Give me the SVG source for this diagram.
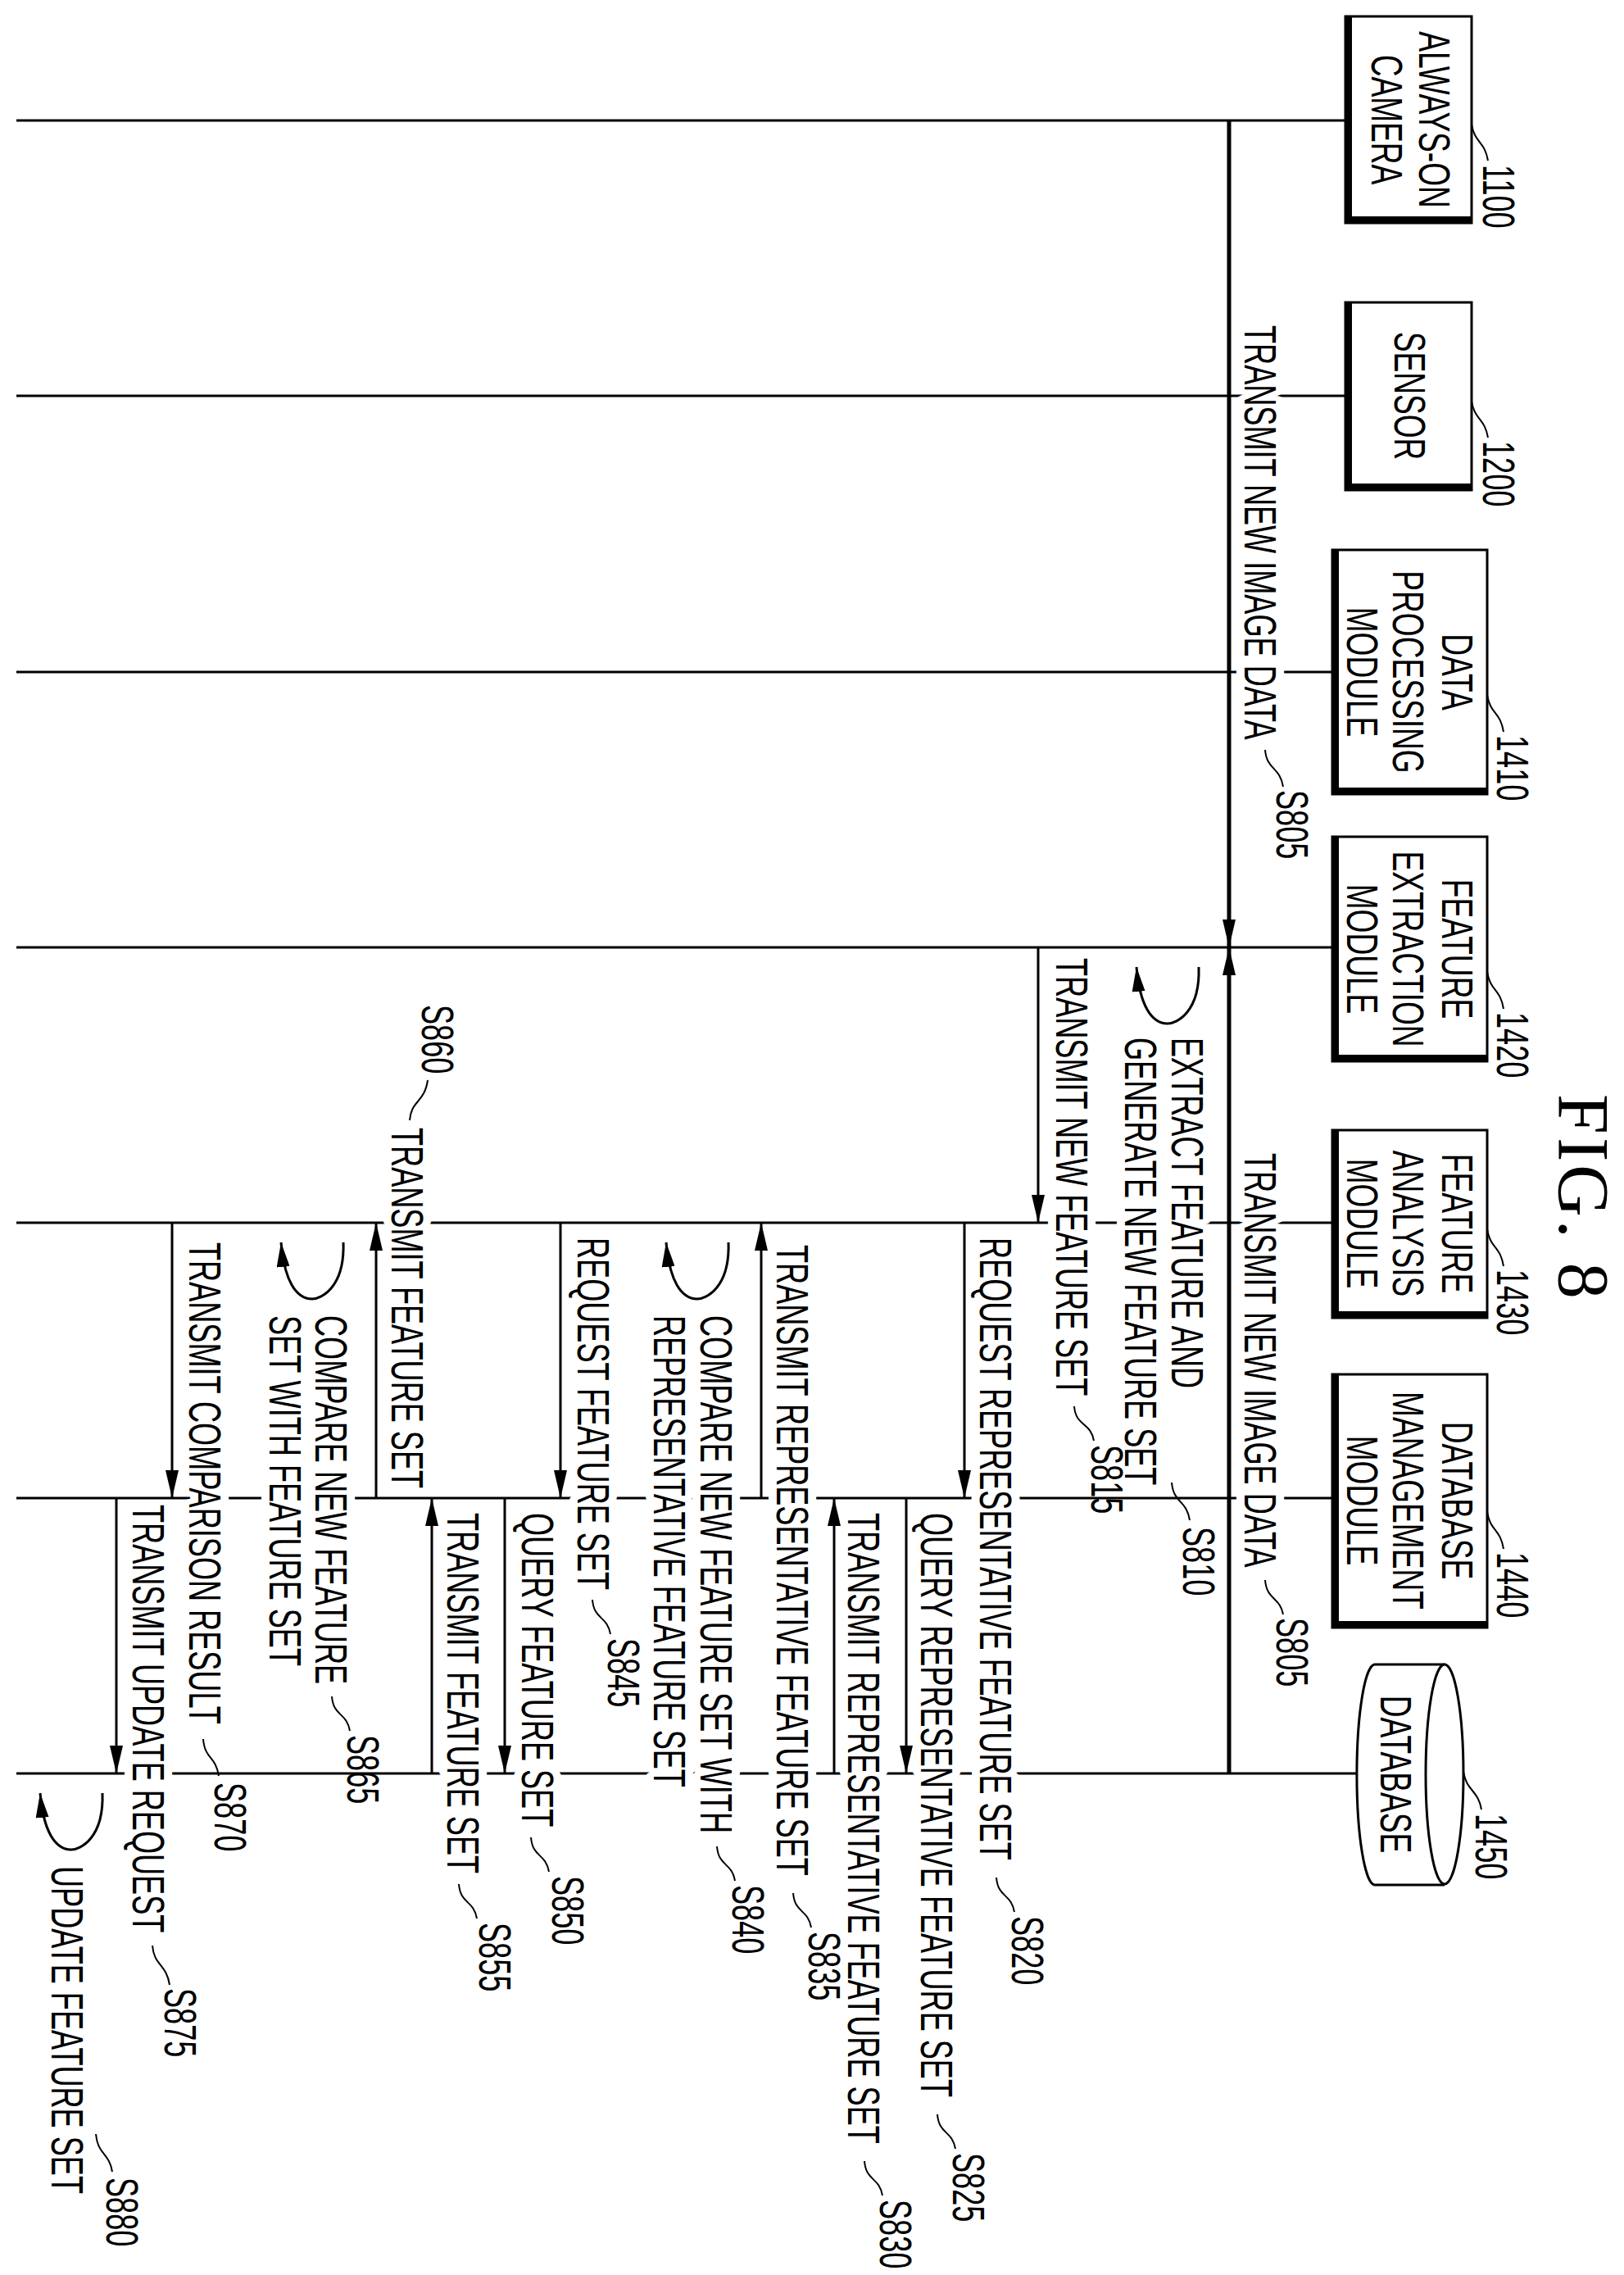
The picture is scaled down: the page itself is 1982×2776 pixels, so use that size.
<svg xmlns="http://www.w3.org/2000/svg" width="1982" height="2776" viewBox="0 0 1982 2776">
<defs>
<style>
.ll{stroke:#000;stroke-width:3;fill:none}
.msg{stroke:#000;stroke-width:3;fill:none}
.thick{stroke:#000;stroke-width:5;fill:none}
.box{fill:#fff;stroke:#000;stroke-width:3}
.sh{stroke:#000;stroke-width:8;fill:none}
.ld{stroke:#000;stroke-width:2;fill:none}
.t{font-family:"Liberation Sans",Arial,sans-serif;font-size:56px;fill:#000}
.h{stroke:#fff;stroke-width:20px;paint-order:stroke;stroke-linejoin:round}
.bt{font-family:"Liberation Sans",Arial,sans-serif;font-size:53px;fill:#000;text-anchor:middle}
.fig{font-family:"Liberation Serif","Times New Roman",serif;font-size:88px;fill:#000;letter-spacing:4px}
</style>
<marker id="ah" markerWidth="34" markerHeight="16" refX="34" refY="8" orient="auto" markerUnits="userSpaceOnUse"><path d="M0,0 L34,8 L0,16 z" fill="#000"/></marker>
<marker id="lh" markerWidth="30" markerHeight="16" refX="30" refY="8" orient="auto" markerUnits="userSpaceOnUse"><path d="M0,0 L30,8 L0,16 z" fill="#000"/></marker>
</defs>
<rect width="1982" height="2776" fill="#fff"/>

<g id="lifelines">
<line class="ll" x1="20" y1="147" x2="1642" y2="147"/>
<line class="ll" x1="20" y1="483" x2="1642" y2="483"/>
<line class="ll" x1="20" y1="820" x2="1626" y2="820"/>
<line class="ll" x1="20" y1="1156" x2="1626" y2="1156"/>
<line class="ll" x1="20" y1="1492" x2="1626" y2="1492"/>
<line class="ll" x1="20" y1="1828" x2="1626" y2="1828"/>
<line class="ll" x1="20" y1="2164" x2="1656" y2="2164"/>
</g>

<text class="fig" transform="translate(1903,1335) rotate(90)">FIG. 8</text>

<g id="n1100">
<rect class="box" x="1642" y="20" width="154" height="252"/>
<path class="sh" d="M1646,20 V268 H1796"/>
<text class="bt" transform="translate(1732,146) rotate(90) scale(0.7,1)">ALWAYS-ON</text>
<text class="bt" transform="translate(1674,146) rotate(90) scale(0.7,1)">CAMERA</text>
<path class="ld" d="M1796,152 C1800,175 1812,172 1816,196"/>
<text class="t" transform="translate(1810,201) rotate(90) scale(0.645,1)">1100</text>
</g>
<g id="n1200">
<rect class="box" x="1642" y="369" width="154" height="229"/>
<path class="sh" d="M1646,369 V594 H1796"/>
<text class="bt" transform="translate(1702,483) rotate(90) scale(0.7,1)">SENSOR</text>
<path class="ld" d="M1796,490 C1800,513 1812,510 1816,534"/>
<text class="t" transform="translate(1810,538) rotate(90) scale(0.645,1)">1200</text>
</g>
<g id="n1410">
<rect class="box" x="1626" y="671" width="189" height="298"/>
<path class="sh" d="M1630,671 V965 H1815"/>
<text class="bt" transform="translate(1760,820) rotate(90) scale(0.7,1)">DATA</text>
<text class="bt" transform="translate(1700,820) rotate(90) scale(0.7,1)">PROCESSING</text>
<text class="bt" transform="translate(1644,820) rotate(90) scale(0.7,1)">MODULE</text>
<path class="ld" d="M1815,848 C1819,872 1831,868 1835,893"/>
<text class="t" transform="translate(1827,897) rotate(90) scale(0.645,1)">1410</text>
</g>
<g id="n1420">
<rect class="box" x="1626" y="1021" width="189" height="274"/>
<path class="sh" d="M1630,1021 V1291 H1815"/>
<text class="bt" transform="translate(1760,1158) rotate(90) scale(0.7,1)">FEATURE</text>
<text class="bt" transform="translate(1700,1158) rotate(90) scale(0.7,1)">EXTRACTION</text>
<text class="bt" transform="translate(1644,1158) rotate(90) scale(0.7,1)">MODULE</text>
<path class="ld" d="M1815,1186 C1819,1210 1831,1206 1835,1231"/>
<text class="t" transform="translate(1827,1235) rotate(90) scale(0.645,1)">1420</text>
</g>
<g id="n1430">
<rect class="box" x="1626" y="1379" width="189" height="229"/>
<path class="sh" d="M1630,1379 V1604 H1815"/>
<text class="bt" transform="translate(1760,1493) rotate(90) scale(0.7,1)">FEATURE</text>
<text class="bt" transform="translate(1700,1493) rotate(90) scale(0.7,1)">ANALYSIS</text>
<text class="bt" transform="translate(1644,1493) rotate(90) scale(0.7,1)">MODULE</text>
<path class="ld" d="M1815,1500 C1819,1524 1831,1520 1835,1545"/>
<text class="t" transform="translate(1827,1549) rotate(90) scale(0.645,1)">1430</text>
</g>
<g id="n1440">
<rect class="box" x="1626" y="1677" width="189" height="309"/>
<path class="sh" d="M1630,1677 V1982 H1815"/>
<text class="bt" transform="translate(1760,1831) rotate(90) scale(0.7,1)">DATABASE</text>
<text class="bt" transform="translate(1700,1831) rotate(90) scale(0.7,1)">MANAGEMENT</text>
<text class="bt" transform="translate(1644,1831) rotate(90) scale(0.7,1)">MODULE</text>
<path class="ld" d="M1815,1845 C1819,1869 1831,1865 1835,1890"/>
<text class="t" transform="translate(1827,1894) rotate(90) scale(0.645,1)">1440</text>
</g>
<g id="n1450">
<path class="box" d="M1763,2031 H1678 A22,134 0 0 0 1678,2300 H1763"/>
<ellipse class="box" cx="1763" cy="2165" rx="23" ry="134"/>
<text class="bt" transform="translate(1685,2165) rotate(90) scale(0.7,1)">DATABASE</text>
<path class="ld" d="M1786,2162 C1790,2186 1804,2184 1808,2208"/>
<text class="t" transform="translate(1801,2213) rotate(90) scale(0.645,1)">1450</text>
</g>

<g id="labels">
<text class="t h" transform="translate(1519,397) rotate(90) scale(0.645,1)">TRANSMIT NEW IMAGE DATA</text>
<text class="t" transform="translate(1558,964) rotate(90) scale(0.645,1)">S805</text>
<text class="t h" transform="translate(1519,1407) rotate(90) scale(0.645,1)">TRANSMIT NEW IMAGE DATA</text>
<text class="t" transform="translate(1558,1974) rotate(90) scale(0.645,1)">S805</text>
<text class="t h" transform="translate(1430,1266) rotate(90) scale(0.645,1)">EXTRACT FEATURE AND</text>
<text class="t h" transform="translate(1373,1266) rotate(90) scale(0.645,1)">GENERATE NEW FEATURE SET</text>
<text class="t" transform="translate(1444,1863) rotate(90) scale(0.645,1)">S810</text>
<text class="t h" transform="translate(1289,1169) rotate(90) scale(0.645,1)">TRANSMIT NEW FEATURE SET</text>
<text class="t" transform="translate(1332,1763) rotate(90) scale(0.645,1)">S815</text>
<text class="t h" transform="translate(1196,1510) rotate(90) scale(0.645,1)">REQUEST REPRESENTATIVE FEATURE SET</text>
<text class="t" transform="translate(1235,2338) rotate(90) scale(0.645,1)">S820</text>
<text class="t h" transform="translate(1124,1846) rotate(90) scale(0.645,1)">QUERY REPRESENTATIVE FEATURE SET</text>
<text class="t" transform="translate(1163,2627) rotate(90) scale(0.645,1)">S825</text>
<text class="t h" transform="translate(1035,1846) rotate(90) scale(0.645,1)">TRANSMIT REPRESENTATIVE FEATURE SET</text>
<text class="t" transform="translate(1074,2684) rotate(90) scale(0.645,1)">S830</text>
<text class="t h" transform="translate(948,1519) rotate(90) scale(0.645,1)">TRANSMIT REPRESENTATIVE FEATURE SET</text>
<text class="t" transform="translate(987,2357) rotate(90) scale(0.645,1)">S835</text>
<text class="t h" transform="translate(855,1605) rotate(90) scale(0.645,1)">COMPARE NEW FEATURE SET WITH</text>
<text class="t h" transform="translate(798,1605) rotate(90) scale(0.645,1)">REPRESENTATIVE FEATURE SET</text>
<text class="t" transform="translate(894,2300) rotate(90) scale(0.645,1)">S840</text>
<text class="t h" transform="translate(705,1510) rotate(90) scale(0.645,1)">REQUEST FEATURE SET</text>
<text class="t" transform="translate(742,1999) rotate(90) scale(0.645,1)">S845</text>
<text class="t h" transform="translate(637,1846) rotate(90) scale(0.645,1)">QUERY FEATURE SET</text>
<text class="t" transform="translate(674,2289) rotate(90) scale(0.645,1)">S850</text>
<text class="t h" transform="translate(546,1846) rotate(90) scale(0.645,1)">TRANSMIT FEATURE SET</text>
<text class="t" transform="translate(585,2346) rotate(90) scale(0.645,1)">S855</text>
<text class="t h" transform="translate(478,1376) rotate(90) scale(0.645,1)">TRANSMIT FEATURE SET</text>
<text class="t" transform="translate(515,1226) rotate(90) scale(0.645,1)">S860</text>
<text class="t h" transform="translate(385,1605) rotate(90) scale(0.645,1)">COMPARE NEW FEATURE</text>
<text class="t h" transform="translate(329,1605) rotate(90) scale(0.645,1)">SET WITH FEATURE SET</text>
<text class="t" transform="translate(424,2117) rotate(90) scale(0.645,1)">S865</text>
<text class="t h" transform="translate(231,1516) rotate(90) scale(0.645,1)">TRANSMIT COMPARISON RESULT</text>
<text class="t" transform="translate(262,2175) rotate(90) scale(0.645,1)">S870</text>
<text class="t h" transform="translate(162,1836) rotate(90) scale(0.645,1)">TRANSMIT UPDATE REQUEST</text>
<text class="t" transform="translate(201,2426) rotate(90) scale(0.645,1)">S875</text>
<text class="t h" transform="translate(63,2277) rotate(90) scale(0.645,1)">UPDATE FEATURE SET</text>
<text class="t" transform="translate(130,2657) rotate(90) scale(0.645,1)">S880</text>
</g>

<g id="connectors">
<line class="thick" x1="1500" y1="147" x2="1500" y2="1156" marker-end="url(#ah)"/>
<line class="thick" x1="1500" y1="2164" x2="1500" y2="1156" marker-end="url(#ah)"/>
<path class="msg" d="M1463,1180 C1465,1236 1435,1249 1425,1249 C1405,1249 1391,1226 1387,1180" marker-end="url(#lh)"/>
<line class="msg" x1="1267" y1="1156" x2="1267" y2="1492" marker-end="url(#ah)"/>
<line class="msg" x1="1177" y1="1492" x2="1177" y2="1828" marker-end="url(#ah)"/>
<line class="msg" x1="1106" y1="1828" x2="1106" y2="2164" marker-end="url(#ah)"/>
<line class="msg" x1="1018" y1="2164" x2="1018" y2="1828" marker-end="url(#ah)"/>
<line class="msg" x1="929" y1="1828" x2="929" y2="1492" marker-end="url(#ah)"/>
<path class="msg" d="M889,1516 C891,1572 861,1585 851,1585 C831,1585 817,1562 813,1516" marker-end="url(#lh)"/>
<line class="msg" x1="684" y1="1492" x2="684" y2="1828" marker-end="url(#ah)"/>
<line class="msg" x1="616" y1="1828" x2="616" y2="2164" marker-end="url(#ah)"/>
<line class="msg" x1="527" y1="2164" x2="527" y2="1828" marker-end="url(#ah)"/>
<line class="msg" x1="459" y1="1828" x2="459" y2="1492" marker-end="url(#ah)"/>
<path class="msg" d="M419,1516 C421,1572 391,1585 381,1585 C361,1585 347,1562 343,1516" marker-end="url(#lh)"/>
<line class="msg" x1="210" y1="1492" x2="210" y2="1828" marker-end="url(#ah)"/>
<line class="msg" x1="142" y1="1828" x2="142" y2="2164" marker-end="url(#ah)"/>
<path class="msg" d="M125,2188 C127,2244 97,2257 87,2257 C67,2257 53,2234 49,2188" marker-end="url(#lh)"/>
<path class="ld" d="M1544,915 C1546,940 1562,935 1566,960"/>
<path class="ld" d="M1544,1928 C1546,1953 1562,1948 1566,1970"/>
<path class="ld" d="M1430,1809 C1432,1834 1448,1830 1452,1855"/>
<path class="ld" d="M1311,1716 C1313,1741 1331,1735 1335,1758"/>
<path class="ld" d="M1216,2291 C1218,2316 1234,2310 1238,2333"/>
<path class="ld" d="M1144,2580 C1146,2605 1162,2599 1166,2622"/>
<path class="ld" d="M1055,2637 C1057,2662 1073,2656 1077,2679"/>
<path class="ld" d="M968,2310 C970,2335 986,2329 990,2352"/>
<path class="ld" d="M875,2253 C877,2278 893,2272 897,2295"/>
<path class="ld" d="M723,1952 C725,1977 741,1971 745,1994"/>
<path class="ld" d="M648,2242 C650,2267 666,2261 670,2284"/>
<path class="ld" d="M560,2299 C562,2324 578,2318 582,2341"/>
<path class="ld" d="M500,1367 C502,1342 518,1346 522,1318"/>
<path class="ld" d="M405,2070 C407,2095 423,2089 427,2112"/>
<path class="ld" d="M248,2122 C250,2147 263,2142 267,2167"/>
<path class="ld" d="M186,2374 C188,2399 203,2396 207,2422"/>
<path class="ld" d="M117,2604 C119,2629 133,2626 137,2650"/>
</g>
</svg>
